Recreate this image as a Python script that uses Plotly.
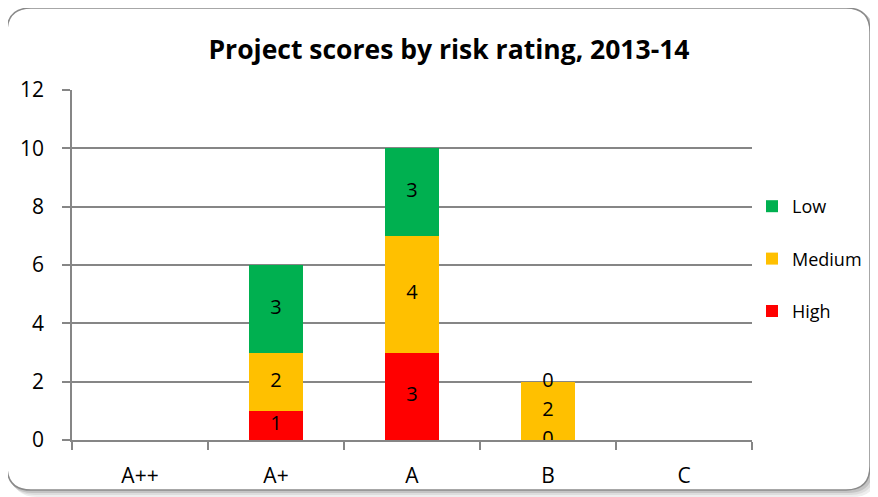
import plotly.graph_objects as go

categories = ["A++", "A+", "A", "B", "C"]
high = [None, 1, 3, 0, None]
medium = [None, 2, 4, 2, None]
low = [None, 3, 3, 0, None]
y_ticks = [0, 2, 4, 6, 8, 10, 12]

colors = {"High": "#FF0000", "Medium": "#FFC000", "Low": "#00B050"}
ranks = {"High": 3, "Medium": 2, "Low": 1}
FONT = "Open Sans"

W, H = 870, 489
L, R, T, B = 64, 126, 82, 57

fig = go.Figure()
series = [("High", high), ("Medium", medium), ("Low", low)]
for name, vals in series:
    fig.add_trace(go.Bar(
        x=categories, y=[v if v is not None else 0 for v in vals], name=name,
        marker=dict(color=colors[name], line=dict(width=0)),
        width=0.4, legendgroup=name, legendrank=ranks[name], hoverinfo="skip",
    ))

# data labels at segment midpoints
lx, ly, lt = [], [], []
base = [0] * len(categories)
for name, vals in series:
    for i, v in enumerate(vals):
        if v is None:
            continue
        lx.append(categories[i])
        ly.append(base[i] + v / 2)
        lt.append(str(v))
        base[i] += v
fig.add_trace(go.Scatter(
    x=lx, y=ly, text=lt, mode="text", showlegend=False, hoverinfo="skip",
    textfont=dict(family=FONT, size=20, color="black"), textposition="middle center",
))

# rounded border in paper coords
def px_to_paper(px, py):
    return (px - L) / (W - L - R), (H - B - py) / (H - T - B)

def rounded(x0p, y0p, x1p, y1p, r):
    def P(x, y):
        a, b = px_to_paper(x, y)
        return f"{a:.5f},{b:.5f}"
    return (f"M {P(x0p + r, y0p)} L {P(x1p - r, y0p)} Q {P(x1p, y0p)} {P(x1p, y0p + r)} "
            f"L {P(x1p, y1p - r)} Q {P(x1p, y1p)} {P(x1p - r, y1p)} "
            f"L {P(x0p + r, y1p)} Q {P(x0p, y1p)} {P(x0p, y1p - r)} "
            f"L {P(x0p, y0p + r)} Q {P(x0p, y0p)} {P(x0p + r, y0p)} Z")

for off, col in [(6, "#eeeeee"), (4, "#dddddd"), (2, "#c4c4c4")]:
    fig.add_shape(type="path", xref="paper", yref="paper", layer="below",
                  path=rounded(-1 + off, 0 + off, 862 + off, 482 + off, 24),
                  line=dict(color=col, width=2), fillcolor=col)
fig.add_shape(type="path", xref="paper", yref="paper", layer="below",
              path=rounded(-1, 0, 862, 482, 24), line=dict(color="#8a8a8a", width=1.5), fillcolor="white")

fig.update_layout(
    width=W, height=H, margin=dict(l=L, r=R, t=T, b=B, autoexpand=False),
    paper_bgcolor="rgba(0,0,0,0)", plot_bgcolor="rgba(0,0,0,0)",
    barmode="stack", bargap=0.6,
    title=dict(text="<b>Project scores by risk rating, 2013-14</b>", xref="container", x=441 / W,
               xanchor="center", y=1 - 42 / H, yanchor="middle",
               font=dict(family=FONT, size=26.5, color="black")),
    font=dict(family=FONT, color="black"),
    legend=dict(xref="container", yref="container", x=744 / W, y=1 - 251 / H,
                xanchor="left", yanchor="middle",
                traceorder="grouped", tracegroupgap=26,
                font=dict(family=FONT, size=18, color="black"),
                itemwidth=30, bgcolor="rgba(0,0,0,0)"),
    showlegend=True,
)
fig.update_xaxes(showline=True, linecolor="#868686", linewidth=1.5, ticks="outside",
                 tickson="boundaries", ticklen=8, tickcolor="#868686", tickwidth=1.5,
                 ticklabelstandoff=16,
                 tickfont=dict(family=FONT, size=21, color="black"), showgrid=False)
fig.update_yaxes(range=[0, 12], tickvals=y_ticks, showline=True, linecolor="#868686", linewidth=1.5,
                 ticks="outside", ticklen=8, tickcolor="#868686", tickwidth=1.5,
                 ticklabelstandoff=14,
                 showgrid=True, gridcolor="#868686", gridwidth=1.5, zeroline=False,
                 tickfont=dict(family=FONT, size=21, color="black"))

fig.write_html("out.html")
